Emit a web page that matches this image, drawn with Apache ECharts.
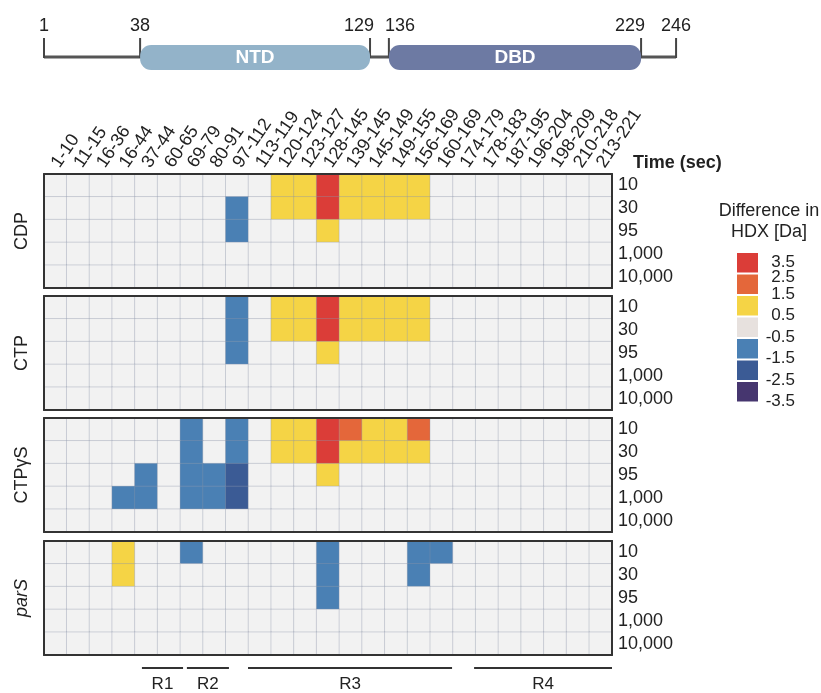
<!DOCTYPE html>
<html>
<head>
<meta charset="utf-8">
<script src="https://cdn.jsdelivr.net/npm/echarts@6/dist/echarts.min.js"></script>
<style>
html,body{margin:0;padding:0;background:#fff;}
#chart{width:821px;height:693px;}
</style>
</head>
<body>
<div id="chart"></div>
<script>
// ---------- data ----------
const peptides = ['1-10','11-15','16-36','16-44','37-44','60-65','69-79','80-91','97-112','113-119','120-124','123-127','128-145','139-145','145-149','149-155','156-169','160-169','174-179','178-183','187-195','196-204','198-209','210-218','213-221'];
const times = ['10','30','95','1,000','10,000'];
const panelNames = ['CDP','CTP','CTPγS','parS'];

// HDX difference [Da], rows = times, columns = peptides
const cdpHDX = [
  [0,0,0,0,0,0,0,0,0,0, 1,1,3,1,1,1,1, 0,0,0,0,0,0,0,0],
  [0,0,0,0,0,0,0,0,-1,0, 1,1,3,1,1,1,1, 0,0,0,0,0,0,0,0],
  [0,0,0,0,0,0,0,0,-1,0, 0,0,1,0,0,0,0, 0,0,0,0,0,0,0,0],
  [0,0,0,0,0,0,0,0,0,0, 0,0,0,0,0,0,0, 0,0,0,0,0,0,0,0],
  [0,0,0,0,0,0,0,0,0,0, 0,0,0,0,0,0,0, 0,0,0,0,0,0,0,0]
];
const ctpHDX = [
  [0,0,0,0,0,0,0,0,-1,0, 1,1,3,1,1,1,1, 0,0,0,0,0,0,0,0],
  [0,0,0,0,0,0,0,0,-1,0, 1,1,3,1,1,1,1, 0,0,0,0,0,0,0,0],
  [0,0,0,0,0,0,0,0,-1,0, 0,0,1,0,0,0,0, 0,0,0,0,0,0,0,0],
  [0,0,0,0,0,0,0,0,0,0, 0,0,0,0,0,0,0, 0,0,0,0,0,0,0,0],
  [0,0,0,0,0,0,0,0,0,0, 0,0,0,0,0,0,0, 0,0,0,0,0,0,0,0]
];
const ctpgsHDX = [
  [0,0,0,0,0,0,-1,0,-1,0, 1,1,3,2,1,1,2, 0,0,0,0,0,0,0,0],
  [0,0,0,0,0,0,-1,0,-1,0, 1,1,3,1,1,1,1, 0,0,0,0,0,0,0,0],
  [0,0,0,0,-1,0,-1,-1,-2,0, 0,0,1,0,0,0,0, 0,0,0,0,0,0,0,0],
  [0,0,0,-1,-1,0,-1,-1,-2,0, 0,0,0,0,0,0,0, 0,0,0,0,0,0,0,0],
  [0,0,0,0,0,0,0,0,0,0, 0,0,0,0,0,0,0, 0,0,0,0,0,0,0,0]
];
const parsHDX = [
  [0,0,0,1,0,0,-1,0,0,0, 0,0,-1,0,0,0,-1,-1, 0,0,0,0,0,0,0],
  [0,0,0,1,0,0,0,0,0,0, 0,0,-1,0,0,0,-1,0, 0,0,0,0,0,0,0],
  [0,0,0,0,0,0,0,0,0,0, 0,0,-1,0,0,0,0,0, 0,0,0,0,0,0,0],
  [0,0,0,0,0,0,0,0,0,0, 0,0,0,0,0,0,0,0, 0,0,0,0,0,0,0],
  [0,0,0,0,0,0,0,0,0,0, 0,0,0,0,0,0,0,0, 0,0,0,0,0,0,0]
];
const panelData = [cdpHDX, ctpHDX, ctpgsHDX, parsHDX];

// colour scale
const legendLabels = ['3.5','2.5','1.5','0.5','-0.5','-1.5','-2.5','-3.5'];
const legendColors = ['#db3d38','#e4673a','#f5d445','#e7e1de','#4a80b4','#3b5b95','#46366f'];
const cellZeroColor = '#f2f2f2';

// domain schematic (not to scale; positions in peptide-column units)
const domainTicks = [1, 38, 129, 136, 229, 246];
const domainTickPos = [0, 4.23, 14.35, 15.18, 26.28, 27.82];
const domainNames = ['NTD', 'DBD'];
const domainTickIndex = [[1, 2], [3, 4]];
const domainColors = ['#93b3c9', '#6d7aa3'];

// region brackets (peptide-column units)
const regionNames = ['R1','R2','R3','R4'];
const regionSpan = [[4.31, 6.12], [6.29, 8.14], [8.98, 17.96], [18.93, 25.0]];

// ---------- layout ----------
const FONT = 'Liberation Sans, Arial, Helvetica, sans-serif';
const GL = 44, GW = 568;
const panelTops = [174, 296, 418, 541];
const PH = 114;

const grids = [], xAxes = [], yAxes = [], series = [];
panelTops.forEach((t, i) => {
  grids.push({left: GL, width: GW, top: t, height: PH});
  const line = {show: true, lineStyle: {color: '#333', width: 2}};
  xAxes.push({gridIndex: i, type: 'category', data: peptides, position: 'bottom', z: 10,
    axisLine: line, axisTick: {show: false}, axisLabel: {show: false}, splitLine: {show: false}});
  xAxes.push({gridIndex: i, type: 'category', data: peptides, position: 'top', z: 10,
    axisLine: line, axisTick: {show: false},
    axisLabel: {show: i === 0, interval: 0, rotate: -56, fontSize: 18, color: '#222', fontFamily: FONT, margin: 8},
    splitLine: {show: false}});
  yAxes.push({gridIndex: i, type: 'category', data: times, inverse: true, position: 'left', z: 10,
    axisLine: line, axisTick: {show: false}, axisLabel: {show: false},
    name: panelNames[i], nameLocation: 'middle', nameRotate: 90, nameGap: 13,
    nameTextStyle: {fontSize: 18, color: '#222', fontFamily: FONT, fontStyle: i === 3 ? 'italic' : 'normal'}});
  yAxes.push({gridIndex: i, type: 'category', data: times, inverse: true, position: 'right', z: 10,
    axisLine: line, axisTick: {show: false},
    axisLabel: {show: true, interval: 0, fontSize: 18, color: '#222', fontFamily: FONT, margin: 6}});
  const d = [];
  panelData[i].forEach((row, r) => row.forEach((v, c) => d.push([c, r, v])));
  series.push({type: 'heatmap', xAxisIndex: i * 2, yAxisIndex: i * 2, data: d,
    itemStyle: {borderColor: 'rgba(140,150,170,0.35)', borderWidth: 1},
    emphasis: {disabled: true}, animation: false});
});

// domain grid (index 4)
grids.push({left: GL, width: GW, top: 20, height: 74});
xAxes.push({gridIndex: 4, type: 'value', min: 0, max: 25, show: false});
yAxes.push({gridIndex: 4, type: 'value', min: -1, max: 1, show: false});
// region grid (index 5)
grids.push({left: GL, width: GW, top: 668, height: 20});
xAxes.push({gridIndex: 5, type: 'value', min: 0, max: 25, show: false});
yAxes.push({gridIndex: 5, type: 'value', min: 0, max: 1, show: false});

const xi4 = xAxes.length - 2, xi5 = xAxes.length - 1;
const yi4 = yAxes.length - 2, yi5 = yAxes.length - 1;

// baseline
series.push({type: 'custom', xAxisIndex: xi4, yAxisIndex: yi4, silent: true, animation: false,
  data: [[domainTickPos[0], domainTickPos[domainTickPos.length - 1]]],
  renderItem: (p, api) => {
    const a = api.coord([api.value(0), 0]), b = api.coord([api.value(1), 0]);
    return {type: 'line', shape: {x1: a[0], y1: a[1], x2: b[0], y2: b[1]}, style: {stroke: '#555', lineWidth: 3}};
  }});
// ticks + labels
const tickAlign = ['center', 'center', 'right', 'left', 'right', 'center'];
series.push({type: 'custom', xAxisIndex: xi4, yAxisIndex: yi4, silent: true, animation: false,
  data: domainTickPos.map((x, i) => [x, domainTicks[i]]),
  renderItem: (p, api) => {
    const c = api.coord([api.value(0), 0]);
    const al = tickAlign[p.dataIndex];
    const dx = al === 'right' ? 4 : (al === 'left' ? -4 : 0);
    return {type: 'group', children: [
      {type: 'line', shape: {x1: c[0], y1: c[1] - 19, x2: c[0], y2: c[1] + 1}, style: {stroke: '#444', lineWidth: 2}},
      {type: 'text', x: c[0] + dx, y: c[1] - 31, style: {text: String(api.value(1)), fill: '#222', fontSize: 18, fontFamily: FONT, align: al, verticalAlign: 'middle'}}
    ]};
  }});
// domain bars
series.push({type: 'custom', xAxisIndex: xi4, yAxisIndex: yi4, silent: true, animation: false,
  data: domainTickIndex.map(ix => [domainTickPos[ix[0]], domainTickPos[ix[1]]]),
  renderItem: (p, api) => {
    const a = api.coord([api.value(0), 0]), b = api.coord([api.value(1), 0]);
    return {type: 'group', children: [
      {type: 'rect', shape: {x: a[0], y: a[1] - 12, width: b[0] - a[0], height: 25, r: 11}, style: {fill: domainColors[p.dataIndex]}},
      {type: 'text', x: (a[0] + b[0]) / 2, y: a[1] + 1, style: {text: domainNames[p.dataIndex], fill: '#fff', fontSize: 19, fontWeight: 'bold', fontFamily: FONT, align: 'center', verticalAlign: 'middle'}}
    ]};
  }});
// region brackets
series.push({type: 'custom', xAxisIndex: xi5, yAxisIndex: yi5, silent: true, animation: false,
  data: regionSpan.map(s => [s[0], s[1]]),
  renderItem: (p, api) => {
    const a = api.coord([api.value(0), 1]), b = api.coord([api.value(1), 1]);
    const t = api.coord([(api.value(0) + api.value(1)) / 2, 0.2]);
    return {type: 'group', children: [
      {type: 'line', shape: {x1: a[0], y1: a[1], x2: b[0], y2: b[1]}, style: {stroke: '#333', lineWidth: 2}},
      {type: 'text', x: t[0], y: t[1], style: {text: regionNames[p.dataIndex], fill: '#222', fontSize: 17, fontFamily: FONT, align: 'center', verticalAlign: 'middle'}}
    ]};
  }});

// legend (drawn with graphic)
const LX = 737, LY = 253, STEP = 21.5;
const legendChildren = [];
legendColors.forEach((c, i) => {
  legendChildren.push({type: 'rect', shape: {x: 0, y: i * STEP, width: 21, height: 19.5}, style: {fill: c}});
});
legendLabels.forEach((l, i) => {
  const ly = i === 0 ? 9 : (i === 1 ? 24 : i * STEP - 2);
  legendChildren.push({type: 'text', x: 58, y: ly,
    style: {text: l, fill: '#222', fontSize: 17, fontFamily: FONT, align: 'right', verticalAlign: 'middle'}});
});

const option = {
  backgroundColor: '#fff',
  animation: false,
  title: [
    {text: 'Time (sec)', left: 628, top: 149, textStyle: {fontSize: 18, fontWeight: 'bold', color: '#222', fontFamily: FONT}},
    {text: 'Difference in\nHDX [Da]', left: 764, top: 196, textAlign: 'center',
      textStyle: {fontSize: 18, fontWeight: 'normal', color: '#222', fontFamily: FONT, lineHeight: 21}}
  ],
  grid: grids,
  xAxis: xAxes,
  yAxis: yAxes,
  visualMap: {
    type: 'piecewise', show: false, seriesIndex: [0, 1, 2, 3], dimension: 2,
    pieces: [
      {gte: 2.5, color: legendColors[0]},
      {gte: 1.5, lt: 2.5, color: legendColors[1]},
      {gte: 0.5, lt: 1.5, color: legendColors[2]},
      {gt: -0.5, lt: 0.5, color: cellZeroColor},
      {gt: -1.5, lte: -0.5, color: legendColors[4]},
      {gt: -2.5, lte: -1.5, color: legendColors[5]},
      {lte: -2.5, color: legendColors[6]}
    ]
  },
  graphic: [{type: 'group', left: LX, top: LY, children: legendChildren}],
  series: series
};
const chart = echarts.init(document.getElementById('chart'), null, {renderer: 'canvas'});
chart.setOption(option);
</script>
</body>
</html>
